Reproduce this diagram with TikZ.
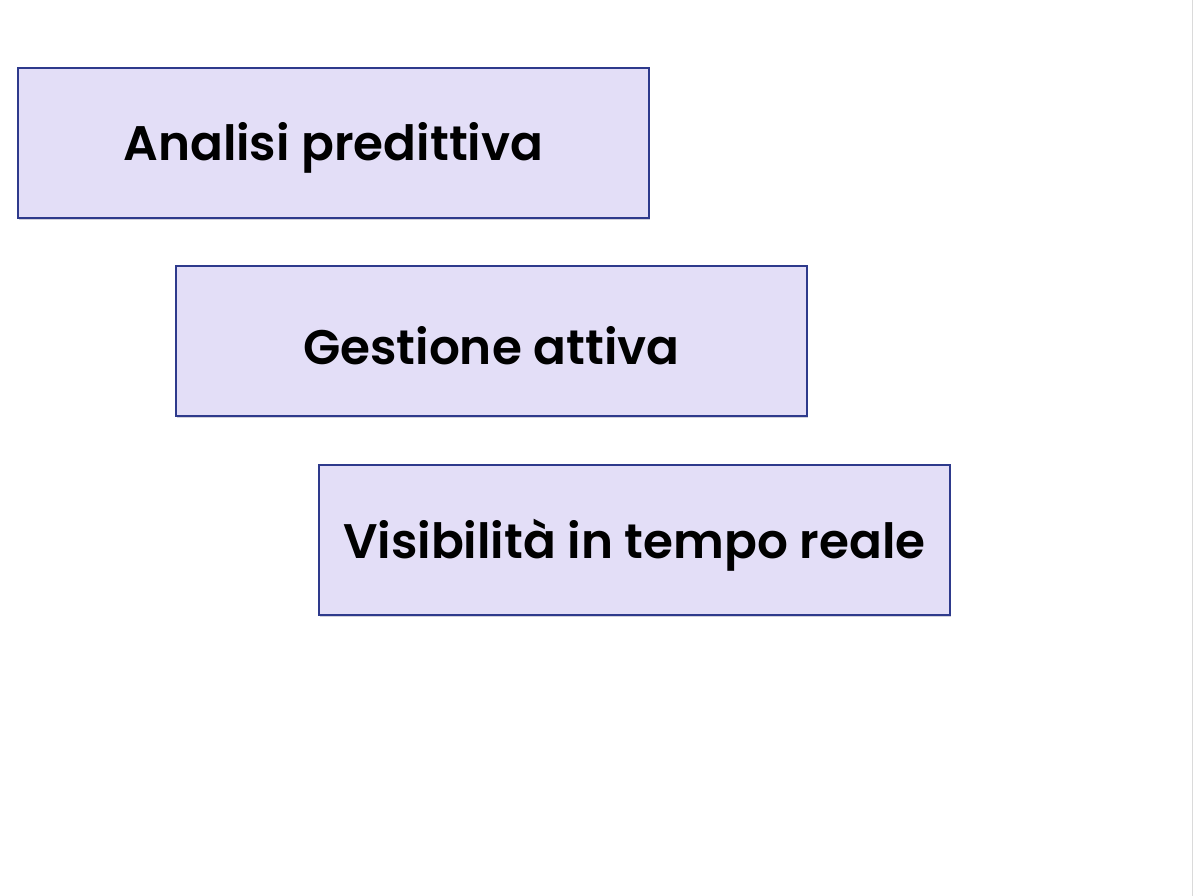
\documentclass[tikz,border=0pt]{standalone}
\usepackage{fontspec}
\setmainfont{Poppins}[BoldFont={Poppins SemiBold}]
\definecolor{boxfill}{HTML}{E3DEF7}
\definecolor{boxline}{HTML}{2E3A8C}
\definecolor{shadowc}{HTML}{9A9AB0}
\definecolor{edgec}{HTML}{DADADA}
\tikzset{
  stepbox/.style={draw=boxline, line width=1.6pt, fill=boxfill, minimum width=631pt, minimum height=150pt, inner sep=0pt, anchor=north west},
  steptext/.style={inner sep=0pt, yshift=-5pt, font=\fontsize{48.5}{56}\selectfont\bfseries, text=black},
  boxshadow/.style={fill=shadowc, opacity=0.45}
}
\begin{document}
\begin{tikzpicture}[x=1pt,y=-1pt]
\useasboundingbox (0,0) rectangle (1193,896);
\fill[white] (0,0) rectangle (1193,896);
\draw[edgec, line width=1pt] (1192.5,0) -- (1192.5,896);
\foreach \x/\y in {17/67,175/265,318/464}{
  \fill[boxshadow] (\x+2,\y+3) rectangle (\x+633,\y+153);
}
\node[stepbox] (a) at (17,67) {};
\node[stepbox] (b) at (175,265) {};
\node[stepbox] (c) at (318,464) {};
\node[steptext] (ta) at (a.center) {Analisi predittiva};
\node[steptext] (tb) at (b.center) {Gestione attiva};
\node[steptext] (tc) at (c.center) {Visibilità in tempo reale};
\end{tikzpicture}
\end{document}
